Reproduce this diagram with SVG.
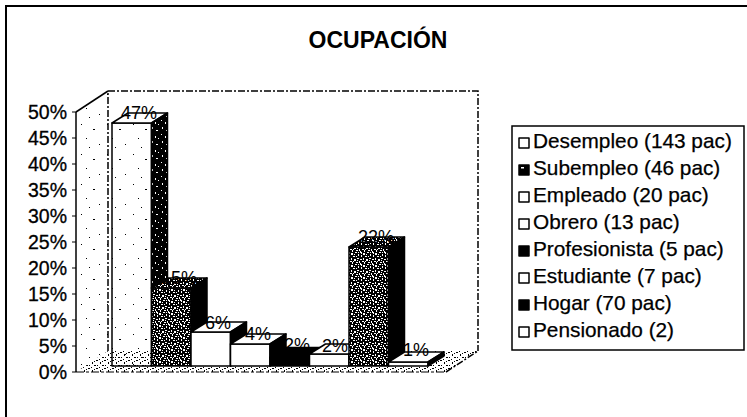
<svg xmlns="http://www.w3.org/2000/svg" width="747" height="417" viewBox="0 0 747 417">
<style>
text{font-family:"Liberation Sans",Arial,sans-serif;fill:#000}
.ax{font-size:19.5px;text-anchor:end;stroke:#000;stroke-width:0.3}
.lbl{font-size:18px;text-anchor:middle}
.leg{font-size:20.8px;stroke:#000;stroke-width:0.25}
.edge{stroke:#000;stroke-width:1.5;stroke-linejoin:round}
.thin{stroke:#000;stroke-width:1}
.wall{stroke:#000;stroke-width:1.5;stroke-dasharray:7 2 2 2;fill:none}
</style>
<defs>
<pattern id="dense" width="12" height="12" patternUnits="userSpaceOnUse">
<rect width="12" height="12" fill="#000"/>
<g fill="#fff">
<rect x="0" y="0" width="2" height="1"/><rect x="3" y="1" width="2" height="2"/><rect x="7" y="0" width="2" height="1"/>
<rect x="10" y="2" width="1" height="2"/><rect x="1" y="3" width="1" height="2"/><rect x="5" y="4" width="2" height="1"/>
<rect x="8" y="4" width="1" height="1"/><rect x="0" y="7" width="2" height="1"/><rect x="3" y="6" width="1" height="2"/>
<rect x="6" y="7" width="2" height="2"/><rect x="9" y="6" width="2" height="1"/><rect x="11" y="9" width="1" height="2"/>
<rect x="2" y="9" width="2" height="1"/><rect x="4" y="10" width="1" height="2"/><rect x="8" y="10" width="2" height="1"/>
<rect x="0" y="11" width="1" height="1"/><rect x="6" y="2" width="1" height="1"/><rect x="10" y="0" width="1" height="1"/>
<rect x="5" y="9" width="1" height="1"/><rect x="1" y="1" width="1" height="1"/><rect x="9" y="8" width="1" height="1"/>
</g>
</pattern>
<pattern id="darkside" width="10" height="14" patternUnits="userSpaceOnUse">
<rect width="10" height="14" fill="#000"/>
<g fill="#fff">
<rect x="2" y="1" width="1" height="2"/><rect x="6" y="4" width="2" height="1"/><rect x="1" y="8" width="1" height="1"/>
<rect x="5" y="10" width="1" height="2"/><rect x="8" y="12" width="1" height="1"/>
</g>
</pattern>
<pattern id="sparse" width="26" height="30" patternUnits="userSpaceOnUse">
<g fill="#000">
<rect x="3" y="4" width="1" height="1"/><rect x="15" y="9" width="2" height="1"/><rect x="8" y="18" width="1" height="1"/>
<rect x="21" y="24" width="1" height="1"/><rect x="11" y="27" width="1" height="1"/>
</g>
</pattern>
<pattern id="floor" width="8" height="8" patternUnits="userSpaceOnUse">
<g fill="#000">
<rect x="0" y="0" width="2" height="1"/><rect x="4" y="2" width="1" height="2"/><rect x="6" y="5" width="2" height="1"/>
<rect x="1" y="5" width="1" height="1"/><rect x="3" y="7" width="1" height="1"/><rect x="6" y="1" width="1" height="1"/>
</g>
</pattern>
</defs>
<rect width="747" height="417" fill="#fff"/>
<!-- outer frame -->
<path d="M6 417 V6 H747" fill="none" stroke="#000" stroke-width="2"/>
<text x="378" y="48" font-size="23" font-weight="bold" text-anchor="middle">OCUPACIÓN</text>

<g id="walls">
<polygon points="76,112 108,91 108,351 76,372" fill="url(#sparse)"/>
<rect x="108" y="91" width="370" height="260" fill="#fff"/>
<polygon points="76,372 108,351 478,351 446,372" fill="url(#floor)"/>
<path class="wall" d="M108 351 V91 H478 V351"/>
<path class="wall" d="M446 372 L478 351"/>
<path d="M76 112 L108 91" class="edge" fill="none"/>
<path d="M76 372 H446" class="thin" stroke-dasharray="8 2 3 2" fill="none"/>
</g>

<g id="axis">
<path d="M76 112 V372" class="edge" fill="none"/>
<path d="M72 112 H76 M72 138 H76 M72 164 H76 M72 190 H76 M72 216 H76 M72 242 H76 M72 268 H76 M72 294 H76 M72 320 H76 M72 346 H76 M72 372 H76" class="thin" fill="none"/>
<text class="ax" x="67" y="119">50%</text>
<text class="ax" x="67" y="145">45%</text>
<text class="ax" x="67" y="171">40%</text>
<text class="ax" x="67" y="197">35%</text>
<text class="ax" x="67" y="223">30%</text>
<text class="ax" x="67" y="249">25%</text>
<text class="ax" x="67" y="275">20%</text>
<text class="ax" x="67" y="301">15%</text>
<text class="ax" x="67" y="327">10%</text>
<text class="ax" x="67" y="353">5%</text>
<text class="ax" x="67" y="379">0%</text>
</g>

<!-- bar 2 Subempleo 15% -->
<g id="bar-subempleo">
<rect x="151.5" y="288" width="39.5" height="78" fill="url(#dense)" class="edge"/>
<polygon points="151.5,288 167.5,278 207,278 191,288" fill="url(#dense)" class="edge"/>
<polygon points="191,288 207,278 207,356 191,366" fill="#000" class="edge"/>
</g>
<!-- bar 3 Empleado 6% -->
<g id="bar-empleado">
<rect x="191" y="332" width="39.5" height="34" fill="#fff" class="edge"/>
<polygon points="191,332 207,322 246.5,322 230.5,332" fill="#fff" class="edge"/>
<polygon points="230.5,332 246.5,322 246.5,356 230.5,366" fill="#000" class="edge"/>
</g>
<!-- bar 4 Obrero 4% -->
<g id="bar-obrero">
<rect x="230.5" y="344" width="39.5" height="22" fill="#fff" class="edge"/>
<polygon points="230.5,344 246.5,334 286,334 270,344" fill="#fff" class="edge"/>
<polygon points="270,344 286,334 286,356 270,366" fill="#000" class="edge"/>
</g>
<!-- bar 5 Profesionista 2% -->
<g id="bar-profesionista">
<rect x="270" y="357.5" width="39.5" height="8.5" fill="#000" class="edge"/>
<polygon points="270,357.5 286,347.5 325.5,347.5 309.5,357.5" fill="#000" class="edge"/>
<polygon points="309.5,357.5 325.5,347.5 325.5,356 309.5,366" fill="#000" class="edge"/>
</g>
<!-- bar 6 Estudiante 2% -->
<g id="bar-estudiante">
<rect x="309.5" y="354" width="39.5" height="12" fill="#fff" class="edge"/>
<polygon points="309.5,354 325.5,344 365,344 349,354" fill="#fff" class="edge"/>
<polygon points="349,354 365,344 365,356 349,366" fill="#000" class="edge"/>
</g>
<!-- bar 7 Hogar 22% -->
<g id="bar-hogar">
<rect x="349" y="247" width="39.5" height="119" fill="url(#dense)" class="edge"/>
<polygon points="349,247 365,237 404.5,237 388.5,247" fill="url(#dense)" class="edge"/>
<polygon points="388.5,247 404.5,237 404.5,356 388.5,366" fill="#000" class="edge"/>
</g>
<!-- bar 8 Pensionado 1% -->
<g id="bar-pensionado">
<rect x="388.5" y="362" width="39.5" height="4" fill="#fff" class="edge"/>
<polygon points="388.5,362 404.5,352 444,352 428,362" fill="#fff" class="edge"/>
<polygon points="428,362 444,352 444,356 428,366" fill="#000" class="edge"/>
</g>

<g id="labels">
<text class="lbl" x="179" y="284">15%</text>
<text class="lbl" x="218" y="329">6%</text>
<text class="lbl" x="258" y="340">4%</text>
<text class="lbl" x="297" y="351">2%</text>
<text class="lbl" x="335" y="352">2%</text>
<text class="lbl" x="376" y="243">22%</text>
<text class="lbl" x="416" y="356">1%</text>
</g>

<!-- bar 1 Desempleo 47% -->
<g id="bar-desempleo">
<rect x="112" y="123" width="39.5" height="243" fill="url(#sparse)" class="edge"/>
<polygon points="112,123 128,113 167.5,113 151.5,123" fill="#fff" class="edge"/>
<polygon points="151.5,123 167.5,113 167.5,278 151.5,288" fill="url(#darkside)" class="edge"/>
<text class="lbl" x="139" y="119">47%</text>
</g>

<g id="legend">
<rect x="512" y="126" width="232" height="224" fill="#fff" stroke="#000" stroke-width="1.5"/>
<rect x="519" y="138" width="10" height="10" fill="#fff" class="edge"/>
<rect x="519" y="165" width="10" height="10" fill="#000" class="edge"/>
<rect x="521" y="167" width="3" height="1.5" fill="#fff"/>
<rect x="519" y="192" width="10" height="10" fill="#fff" class="edge"/>
<rect x="519" y="219" width="10" height="10" fill="#fff" class="edge"/>
<rect x="519" y="246" width="10" height="10" fill="#000" class="edge"/>
<rect x="519" y="273" width="10" height="10" fill="#fff" class="edge"/>
<rect x="519" y="300" width="10" height="10" fill="#000" class="edge"/>
<rect x="519" y="327" width="10" height="10" fill="#fff" class="edge"/>
<text class="leg" x="533" y="148">Desempleo (143 pac)</text>
<text class="leg" x="533" y="175">Subempleo (46 pac)</text>
<text class="leg" x="533" y="202">Empleado (20 pac)</text>
<text class="leg" x="533" y="229">Obrero (13 pac)</text>
<text class="leg" x="533" y="256">Profesionista (5 pac)</text>
<text class="leg" x="533" y="283">Estudiante (7 pac)</text>
<text class="leg" x="533" y="310">Hogar (70 pac)</text>
<text class="leg" x="533" y="337">Pensionado (2)</text>
</g>
</svg>
